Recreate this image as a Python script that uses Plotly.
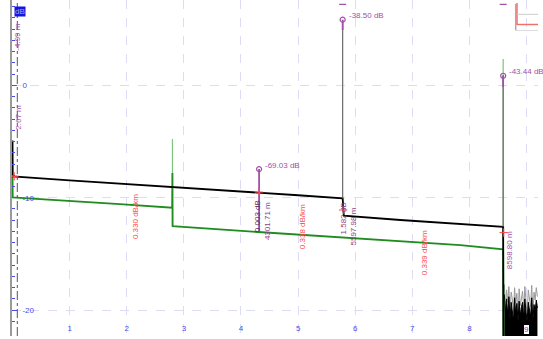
import plotly.graph_objects as go

# ---------------- data ----------------
x_ticks = [1, 2, 3, 4, 5, 6, 7, 8, 9]
x_tick_text = ["1", "2", "3", "4", "5", "6", "7", "8", ""]
y_ticks = [-20, -10, 0]
y_tick_text = ["-20", "-10", "0"]

# black trace (km, dB)
black_km = [0.0, 0.004, 1.0, 2.0, 2.80, 3.5, 4.3, 5.0, 5.78, 5.80, 6.79, 7.84, 8.59, 8.595]
black_db = [-4.9, -8.10, -8.45, -8.77, -9.04, -9.27, -9.50, -9.78, -10.05, -11.60, -11.98, -12.30, -12.58, -23.0]

# green trace (km, dB)
green_km = [0.0, 0.004, 1.88, 2.795, 2.80, 2.803, 4.3, 5.38, 7.84, 8.59, 8.595]
green_db = [-8.0, -9.98, -10.56, -10.89, -7.8, -12.52, -13.05, -13.41, -14.21, -14.59, -23.0]

# reflective spikes
black_spike_km = [5.78, 8.59]
black_spike_base = [-10.05, -12.58]
black_spike_top = [5.81, 0.92]
green_spike_km = [2.80, 8.59]
green_spike_base = [-12.52, -14.59]
green_spike_top = [-4.78, 2.34]

# noise after fibre end
noise_km = [8.61, 8.63, 8.65, 8.67, 8.69, 8.71, 8.73, 8.75, 8.77, 8.79, 8.81, 8.83, 8.85, 8.87, 8.89,
            8.91, 8.93, 8.95, 8.97, 8.99, 9.01, 9.03, 9.05, 9.07, 9.09, 9.11, 9.13, 9.15, 9.17, 9.19]
noise_peak = [-17.7, -19.8, -18.2, -19.3, -17.9, -20.4, -18.4, -19.0, -20.2, -18.0, -19.4, -18.5, -20.6, -18.1, -19.6,
              -18.7, -18.3, -20.0, -17.9, -19.2, -20.5, -18.2, -19.0, -19.7, -17.8, -20.3, -18.4, -19.1, -18.0, -18.8]
noise_floor = [-18.6, -20.2, -19.0, -20.4, -18.8, -20.8, -19.3, -20.0, -20.9, -18.9, -20.3, -19.4, -21.0, -19.2, -20.5,
               -19.7, -19.3, -20.7, -19.0, -20.2, -21.0, -19.3, -19.9, -20.6, -18.9, -20.9, -19.5, -20.1, -19.1, -19.8]
noise_base = [-23.0] * len(noise_km)

# event markers
marker_km = [4.317, 5.78, 8.59]
marker_db = [-7.45, 5.84, 0.85]
marker_end_db = [-13.05, 4.92, -0.15]
marker_labels = ["-69.03 dB", "-38.50 dB", "-43.44 dB"]
top_tick_km = [5.78, 8.59]
top_tick_db = [7.2, 7.2]

red_mark_km = [0.03, 4.317, 5.79, 8.60]
red_mark_db = [-8.1, -9.5, -11.09, -13.1]

cursor_km = 0.084

PURPLE = "#a050a8"
RED = "#ff4a4a"
BLUE = "#4a4ae8"
FONT = "Liberation Sans"

fig = go.Figure()

# noise
fig.add_trace(go.Scatter(x=noise_km, y=noise_base, mode="lines", line=dict(width=0, color="black"),
                         hoverinfo="skip"))
fig.add_trace(go.Scatter(x=noise_km, y=noise_peak, mode="lines", line=dict(width=1, color="#9a9a9a"),
                         hoverinfo="skip"))
fig.add_trace(go.Scatter(x=noise_km, y=noise_base, mode="lines", line=dict(width=0, color="black"),
                         hoverinfo="skip"))
fig.add_trace(go.Scatter(x=noise_km, y=noise_floor, mode="lines", line=dict(width=1, color="black"),
                         fill="tonexty", fillcolor="black", hoverinfo="skip"))

# spikes
gx, gy = [], []
for k, b, t in zip(green_spike_km, green_spike_base, green_spike_top):
    gx += [k, k, None]
    gy += [b, t, None]
fig.add_trace(go.Scatter(x=gx, y=gy, mode="lines", line=dict(width=1.2, color="#7cc47c")))

# traces
fig.add_trace(go.Scatter(x=green_km, y=green_db, mode="lines", line=dict(width=1.8, color="#1f8c1f")))
fig.add_trace(go.Scatter(x=black_km, y=black_db, mode="lines", line=dict(width=1.8, color="#000000")))

bx, by = [], []
for k, b, t in zip(black_spike_km, black_spike_base, black_spike_top):
    bx += [k, k, None]
    by += [b, t, None]
fig.add_trace(go.Scatter(x=bx, y=by, mode="lines", line=dict(width=1.2, color="#6a6a6a")))

# marker bars
mx, my = [], []
for k, a, b in zip(marker_km, marker_db, marker_end_db):
    mx += [k, k, None]
    my += [a, b, None]
fig.add_trace(go.Scatter(x=mx, y=my, mode="lines", line=dict(width=1.8, color=PURPLE)))
fig.add_trace(go.Scatter(x=marker_km, y=marker_db, mode="markers",
                         marker=dict(symbol="circle-open", size=5, color=PURPLE, line=dict(width=1.2))))
fig.add_trace(go.Scatter(x=top_tick_km, y=top_tick_db, mode="markers",
                         marker=dict(symbol="line-ew-open", size=5, color=PURPLE, line=dict(width=1.2, color=PURPLE))))
fig.add_trace(go.Scatter(x=red_mark_km, y=red_mark_db, mode="markers",
                         marker=dict(symbol="cross-thin-open", size=6, color=RED, line=dict(width=1, color=RED))))

# cursor line
fig.add_shape(type="line", x0=cursor_km, x1=cursor_km, y0=0, y1=1, xref="x", yref="paper",
              line=dict(color="#555555", width=1, dash="dashdot"))

# overview box top right (paper coords)
def px(xp):
    return (xp - 12) / 526.0

def py(yp):
    return (336 - yp) / 336.0

for (x0, y0, x1, y1, c, w) in [
    (515.7, 4, 515.7, 30, "#aaaaaa", 1.5),
    (517, 3, 517, 25, "#f07070", 1.5),
    (517, 24.5, 538, 24.5, "#f07070", 1.5),
    (517, 14.3, 538, 14.3, "#cccccc", 1),
    (515, 30.5, 538, 30.5, "#dddddd", 1),
]:
    fig.add_shape(type="line", x0=px(x0), x1=px(x1), y0=py(y0), y1=py(y1), xref="paper", yref="paper",
                  line=dict(color=c, width=w))

annotations = []
# marker value labels
for k, d, t in zip(marker_km, marker_db, marker_labels):
    annotations.append(dict(x=k, y=d, text=t, xanchor="left", yanchor="middle", xshift=4, yshift=4,
                            showarrow=False, font=dict(family=FONT, size=8, color=PURPLE)))

rot = [
    ("-4.99 m", 0.091, 4.30, PURPLE),
    ("2.67 m", 0.091, -2.82, PURPLE),
    ("0.330 dB/km", 2.145, -11.72, RED),
    ("0.003 dB", 4.282, -11.63, "#5a2f5a"),
    ("4301.71 m", 4.457, -12.07, "#8a3f8a"),
    ("0.338 dB/km", 5.07, -12.61, RED),
    ("1.582 dB", 5.793, -11.81, "#8a3f8a"),
    ("5597.98 m", 5.969, -12.52, "#8a3f8a"),
    ("0.339 dB/km", 7.207, -14.92, RED),
    ("8598.80 m", 8.695, -14.65, PURPLE),
]
for t, k, d, c in rot:
    annotations.append(dict(x=k, y=d, text=t, textangle=-90, showarrow=False,
                            xanchor="center", yanchor="middle",
                            font=dict(family=FONT, size=8, color=c)))

# dB box top-left
annotations.append(dict(xref="paper", yref="paper", x=0, y=1, xanchor="left", yanchor="top",
                        xshift=2, yshift=-6, text="dB", showarrow=False, bgcolor="#1414e6",
                        borderpad=0, font=dict(family=FONT, size=8, color="#a8a8d8")))
# boxed 9 tick
annotations.append(dict(x=9, xref="x", yref="paper", y=0, yanchor="bottom", yshift=1, text="9",
                        showarrow=False, bgcolor="white", bordercolor="black", borderwidth=1, borderpad=0,
                        font=dict(family=FONT, size=8, color=BLUE)))

fig.update_layout(
    width=543, height=339,
    margin=dict(l=12, r=5, t=0, b=3),
    plot_bgcolor="white", paper_bgcolor="white",
    showlegend=False,
    annotations=annotations,
    xaxis=dict(range=[-0.009, 9.20], tickvals=x_ticks, ticktext=x_tick_text,
               ticklabelposition="inside", ticks="", showgrid=True, gridcolor="#dcdcf4",
               griddash="dash", gridwidth=1, zeroline=False, showline=False,
               tickfont=dict(family=FONT, size=8, color=BLUE)),
    yaxis=dict(range=[-22.30, 7.59], tickvals=y_ticks, ticktext=y_tick_text,
               ticklabelposition="inside", ticks="inside", ticklen=5, tickcolor=BLUE, tickwidth=1,
               minor=dict(dtick=1, ticks="inside", ticklen=3, tickcolor=BLUE, showgrid=False),
               showgrid=True, gridcolor="#dcdcf4", griddash="dash", gridwidth=1,
               zeroline=False, showline=True, linecolor="#9a9a9a", linewidth=2,
               ticklabelstandoff=4,
               tickfont=dict(family=FONT, size=8, color=BLUE)),
)

fig.write_html("out.html", config={"displayModeBar": False},
               post_script="document.body.style.margin='0px';document.body.style.padding='0px';")
